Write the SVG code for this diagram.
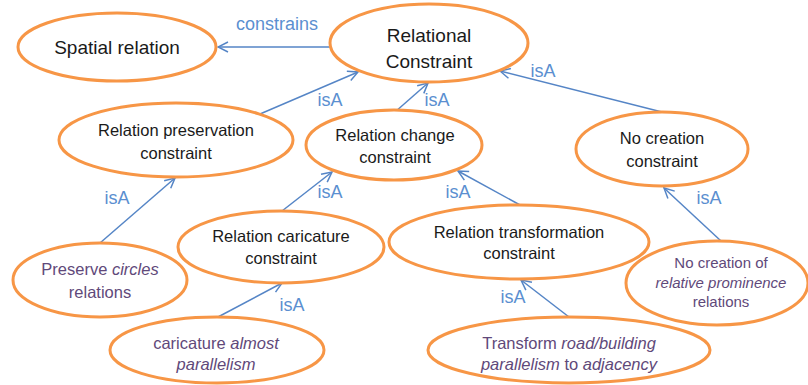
<svg xmlns="http://www.w3.org/2000/svg" width="808" height="385" viewBox="0 0 808 385">
<style>
.n{fill:#fff;stroke:#F79646;stroke-width:3}
.t{font-family:"Liberation Sans",Arial,sans-serif;fill:#1a1a1a;text-anchor:middle}
.p{fill:#5F497A}
.e{stroke:#5585C6;stroke-width:1.5;fill:none}
.l{font-family:"Liberation Sans",Arial,sans-serif;fill:#5B8FD0;font-size:18px;text-anchor:middle}
</style>
<defs>
<marker id="a" viewBox="0 0 12 12" refX="11" refY="6" markerWidth="12" markerHeight="12" markerUnits="userSpaceOnUse" orient="auto">
<path d="M1,1 L11,6 L1,11" fill="none" stroke="#5585C6" stroke-width="1.5"/>
</marker>
</defs>
<g id="connectors">
<line class="e" x1="330" y1="47" x2="218" y2="47" marker-end="url(#a)"/>
<line class="e" x1="260" y1="114" x2="358" y2="72" marker-end="url(#a)"/>
<line class="e" x1="395" y1="112" x2="428" y2="83" marker-end="url(#a)"/>
<line class="e" x1="662" y1="112" x2="500" y2="71" marker-end="url(#a)"/>
<line class="e" x1="100" y1="243" x2="175" y2="178" marker-end="url(#a)"/>
<line class="e" x1="282" y1="211" x2="332" y2="172" marker-end="url(#a)"/>
<line class="e" x1="520" y1="205" x2="458" y2="171" marker-end="url(#a)"/>
<line class="e" x1="721" y1="241" x2="664" y2="188" marker-end="url(#a)"/>
<line class="e" x1="218" y1="317" x2="282" y2="283" marker-end="url(#a)"/>
<line class="e" x1="569" y1="317" x2="521" y2="280" marker-end="url(#a)"/>
<text class="l" x="277" y="30">constrains</text>
<text class="l" x="330" y="106">isA</text>
<text class="l" x="437" y="106">isA</text>
<text class="l" x="543" y="77">isA</text>
<text class="l" x="117" y="204">isA</text>
<text class="l" x="330" y="198">isA</text>
<text class="l" x="458" y="198">isA</text>
<text class="l" x="709" y="204">isA</text>
<text class="l" x="292" y="311">isA</text>
<text class="l" x="513" y="303">isA</text>
</g>
<g id="spatial-relation">
<ellipse class="n" cx="117" cy="47" rx="99" ry="34"/>
<text class="t" x="117" y="54" font-size="19">Spatial relation</text>
</g>
<g id="relational-constraint">
<ellipse class="n" cx="429" cy="43" rx="99" ry="39"/>
<text class="t" x="429" y="42" font-size="19">Relational</text>
<text class="t" x="429" y="68" font-size="19">Constraint</text>
</g>
<g id="relation-preservation">
<ellipse class="n" cx="176" cy="140" rx="117" ry="37"/>
<text class="t" x="176" y="136" font-size="16.5">Relation preservation</text>
<text class="t" x="176" y="159" font-size="16.5">constraint</text>
</g>
<g id="relation-change">
<ellipse class="n" cx="394" cy="145" rx="88" ry="35"/>
<text class="t" x="395" y="141" font-size="16.5">Relation change</text>
<text class="t" x="395" y="163" font-size="16.5">constraint</text>
</g>
<g id="no-creation">
<ellipse class="n" cx="662" cy="149" rx="86" ry="37"/>
<text class="t" x="662" y="144" font-size="16.5">No creation</text>
<text class="t" x="662" y="167" font-size="16.5">constraint</text>
</g>
<g id="preserve-circles">
<ellipse class="n" cx="100" cy="280" rx="87" ry="37"/>
<text class="t p" x="100" y="275" font-size="16.5">Preserve <tspan font-style="italic">circles</tspan></text>
<text class="t p" x="100" y="298" font-size="16.5">relations</text>
</g>
<g id="relation-caricature">
<ellipse class="n" cx="281" cy="247" rx="103" ry="36"/>
<text class="t" x="281" y="242" font-size="16.5">Relation caricature</text>
<text class="t" x="281" y="264" font-size="16.5">constraint</text>
</g>
<g id="relation-transformation">
<ellipse class="n" cx="519" cy="242" rx="130" ry="37"/>
<text class="t" x="519" y="238" font-size="16.5">Relation transformation</text>
<text class="t" x="519" y="259" font-size="16.5">constraint</text>
</g>
<g id="no-creation-prominence">
<ellipse class="n" cx="717" cy="283" rx="91" ry="42"/>
<text class="t p" x="721" y="268" font-size="15">No creation of</text>
<text class="t p" x="721" y="288" font-size="15" font-style="italic">relative prominence</text>
<text class="t p" x="721" y="307" font-size="15">relations</text>
</g>
<g id="caricature-parallelism">
<ellipse class="n" cx="217" cy="350" rx="107" ry="33"/>
<text class="t p" x="216" y="349" font-size="16.5">caricature <tspan font-style="italic">almost</tspan></text>
<text class="t p" x="216" y="370" font-size="16.5" font-style="italic">parallelism</text>
</g>
<g id="transform-adjacency">
<ellipse class="n" cx="569" cy="350" rx="141" ry="33"/>
<text class="t p" x="569" y="349" font-size="16.5">Transform <tspan font-style="italic">road/building</tspan></text>
<text class="t p" x="569" y="370" font-size="16.5"><tspan font-style="italic">parallelism</tspan> to <tspan font-style="italic">adjacency</tspan></text>
</g>
</svg>
